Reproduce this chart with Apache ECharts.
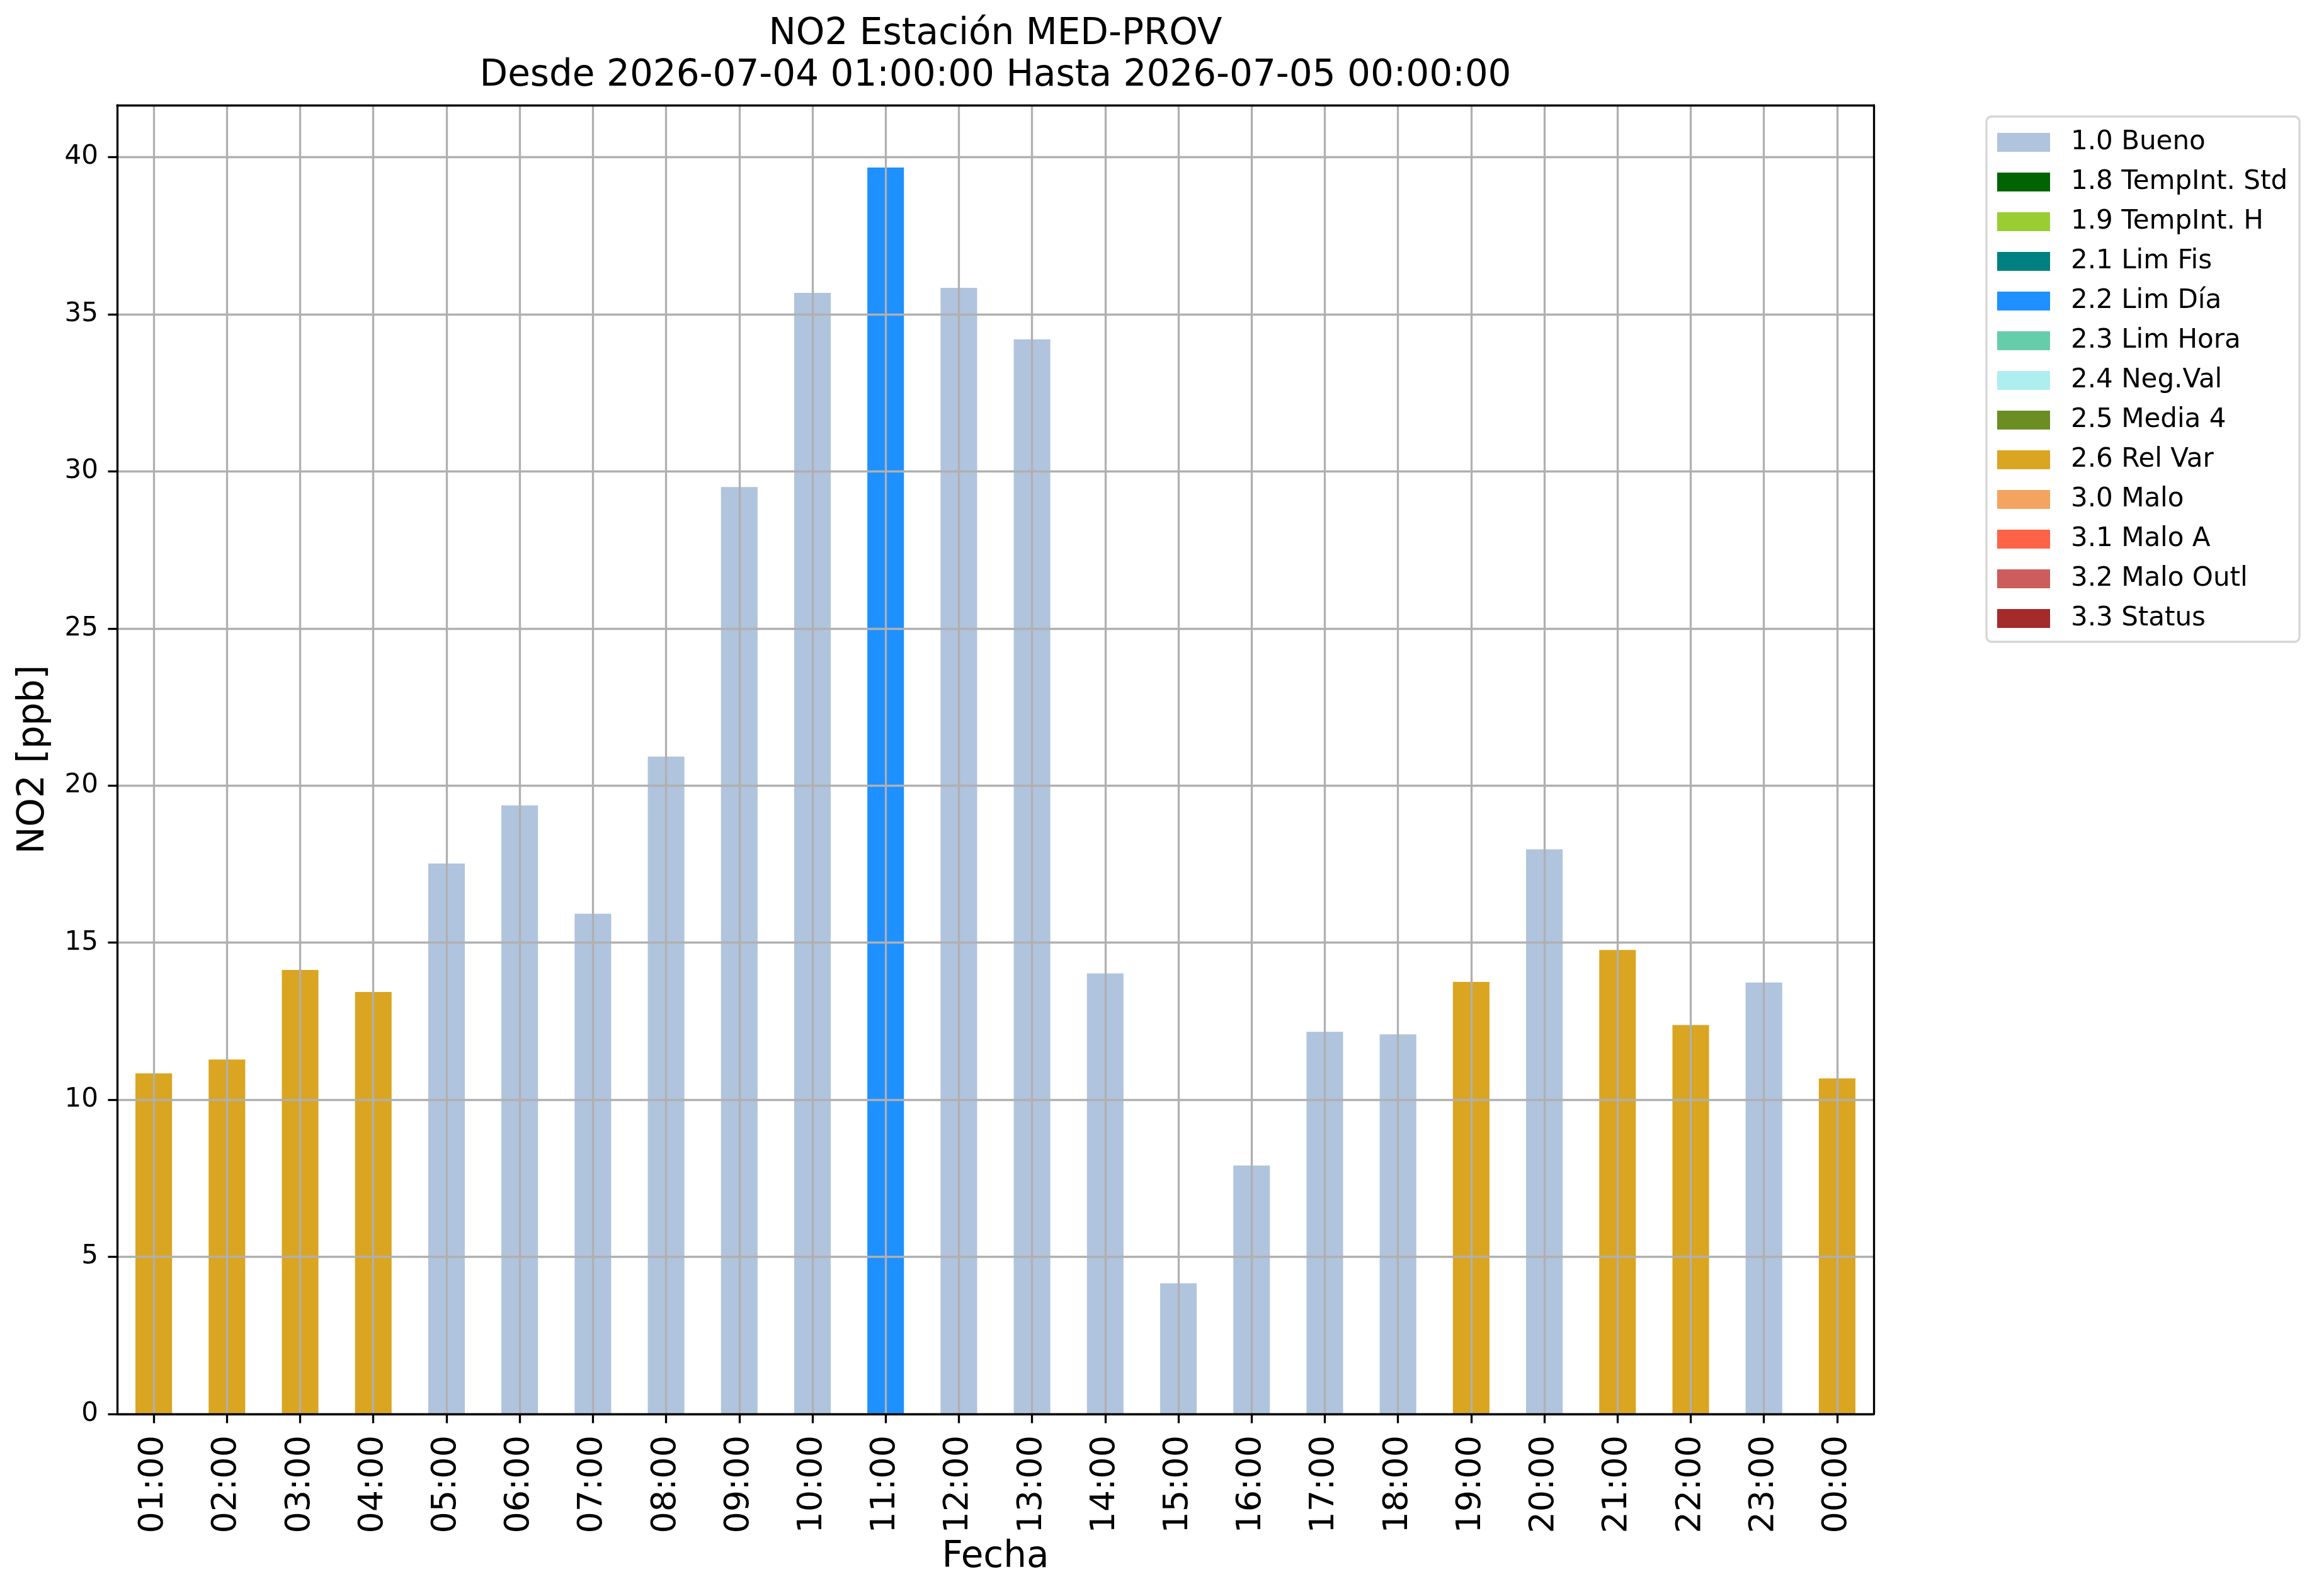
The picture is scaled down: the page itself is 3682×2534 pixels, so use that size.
<!DOCTYPE html>
<html>
<head>
<meta charset="utf-8">
<title>NO2 Estación MED-PROV</title>
<script src="https://cdn.jsdelivr.net/npm/echarts@6/dist/echarts.min.js"></script>
<style>
  html, body { margin: 0; padding: 0; background: #fff; }
  #chart { width: 3682px; height: 2534px; }
</style>
</head>
<body>
<div id="chart"></div>
<script>
// horas del dia
const hours = ['01:00', '02:00', '03:00', '04:00', '05:00', '06:00', '07:00', '08:00',
  '09:00', '10:00', '11:00', '12:00', '13:00', '14:00', '15:00', '16:00',
  '17:00', '18:00', '19:00', '20:00', '21:00', '22:00', '23:00', '00:00']

// NO2 [ppb]
const no2 = [10.84, 11.28, 14.13, 13.43, 17.52, 19.37, 15.92, 20.92,
  29.5, 35.68, 39.67, 35.84, 34.2, 14.02, 4.16, 7.91,
  12.16, 12.08, 13.75, 17.97, 14.77, 12.38, 13.73, 10.68]

// bandera de validacion de cada hora
const flags = ['2.6', '2.6', '2.6', '2.6', '1.0', '1.0', '1.0', '1.0',
  '1.0', '1.0', '2.2', '1.0', '1.0', '1.0', '1.0', '1.0',
  '1.0', '1.0', '2.6', '1.0', '2.6', '2.6', '1.0', '2.6']

const flagNames = ['1.0 Bueno', '1.8 TempInt. Std', '1.9 TempInt. H', '2.1 Lim Fis',
  '2.2 Lim Día', '2.3 Lim Hora', '2.4 Neg.Val', '2.5 Media 4', '2.6 Rel Var',
  '3.0 Malo', '3.1 Malo A', '3.2 Malo Outl', '3.3 Status']

const flagColors = ['#B0C4DE', '#006400', '#9ACD32', '#008080',
  '#1E90FF', '#66CDAA', '#AFEEEE', '#6B8E23', '#DAA520',
  '#F4A460', '#FF6347', '#CD5C5C', '#A52A2A']

const yTicks = [0, 5, 10, 15, 20, 25, 30, 35, 40]

const FONT = 'DejaVu Sans'
const LW = 3.3
const yMax = Math.max(...no2) * 1.05

const myChart = echarts.init(document.getElementById('chart'), null, { renderer: 'canvas' })

const series = flagNames.map((name, i) => {
  const code = name.split(' ')[0]
  return {
    name: name,
    type: 'bar',
    stack: 'no2',
    barWidth: '50%',
    xAxisIndex: 0,
    yAxisIndex: 0,
    itemStyle: { color: flagColors[i] },
    emphasis: { disabled: true },
    data: no2.map((v, j) => (flags[j] === code ? v : '-'))
  }
})

const option = {
  animation: false,
  backgroundColor: '#ffffff',
  textStyle: { fontFamily: FONT, color: '#000' },
  graphic: [
    {
      type: 'text', x: 1580.5, y: 55, z: 10,
      style: { text: 'NO2 Estación MED-PROV', font: '58px "DejaVu Sans"', fill: '#000',
        textAlign: 'center', verticalAlign: 'middle' }
    },
    {
      type: 'text', x: 1580.5, y: 121, z: 10,
      style: { text: 'Desde 2026-07-04 01:00:00 Hasta 2026-07-05 00:00:00', font: '58px "DejaVu Sans"', fill: '#000',
        textAlign: 'center', verticalAlign: 'middle' }
    }
  ],
  legend: {
    orient: 'vertical',
    left: 3154,
    top: 185,
    padding: [20, 19, 16, 17],
    icon: 'rect',
    itemWidth: 84,
    itemHeight: 30,
    itemGap: 21,
    selectedMode: false,
    backgroundColor: '#ffffff',
    borderColor: '#d6d6d6',
    borderWidth: LW,
    borderRadius: 8,
    data: flagNames,
    textStyle: { fontFamily: FONT, fontSize: 42, color: '#000', padding: [0, 0, 0, 28] }
  },
  grid: { left: 186, right: 707, top: 167, bottom: 289, containLabel: false, outerBoundsMode: 'none' },
  xAxis: [
    {
      type: 'category',
      data: hours,
      z: 3,
      name: 'Fecha',
      nameLocation: 'middle',
      nameGap: 199,
      nameTextStyle: { fontFamily: FONT, fontSize: 58, color: '#000' },
      axisLine: { show: true, lineStyle: { color: '#000', width: LW } },
      axisTick: { show: true, alignWithLabel: true, length: 14.6, lineStyle: { color: '#000', width: LW } },
      axisLabel: { rotate: 90, margin: 34, fontSize: 54, fontFamily: FONT, color: '#000', interval: 0 },
      splitLine: { show: true, alignWithLabel: true, interval: 0, lineStyle: { color: '#b0b0b0', width: LW } }
    },
    {
      type: 'category',
      data: hours,
      position: 'top',
      z: 4,
      axisLine: { show: true, onZero: false, lineStyle: { color: '#000', width: LW } },
      axisTick: { show: false },
      axisLabel: { show: false },
      splitLine: { show: false }
    }
  ],
  yAxis: [
    {
      type: 'value',
      min: 0,
      max: yMax,
      interval: 5,
      z: 3,
      name: 'NO2 [ppb]',
      nameLocation: 'middle',
      nameGap: 103,
      nameRotate: 90,
      nameTextStyle: { fontFamily: FONT, fontSize: 58, color: '#000' },
      axisLine: { show: true, lineStyle: { color: '#000', width: LW } },
      axisTick: { show: true, length: 14.6, customValues: yTicks, lineStyle: { color: '#000', width: LW } },
      axisLabel: { margin: 30, fontSize: 42, fontFamily: FONT, color: '#000', customValues: yTicks },
      splitLine: { show: true, lineStyle: { color: '#b0b0b0', width: LW } }
    },
    {
      type: 'value',
      min: 0,
      max: yMax,
      position: 'right',
      z: 4,
      axisLine: { show: true, onZero: false, lineStyle: { color: '#000', width: LW } },
      axisTick: { show: false },
      axisLabel: { show: false },
      splitLine: { show: false }
    }
  ],
  series: series
}

myChart.setOption(option)
</script>
</body>
</html>
